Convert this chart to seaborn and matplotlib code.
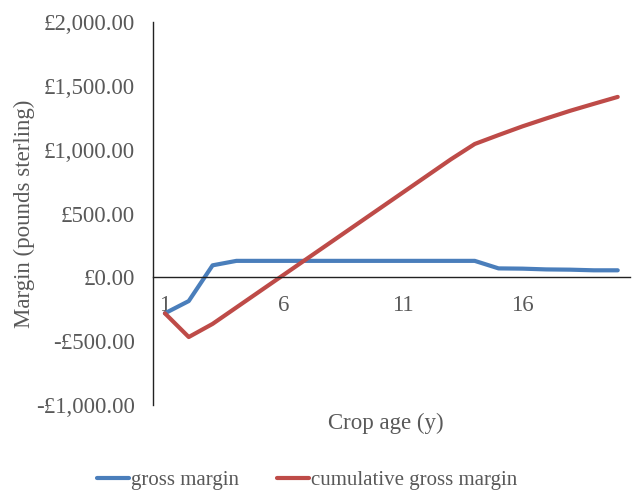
"""Gross margin and cumulative gross margin by crop age"""
import pandas as pd
import matplotlib.pyplot as plt
import matplotlib.ticker as mticker
import seaborn as sns

crop_age = list(range(1, 21))
gross_margin = [-282, -186, 94, 129, 129, 129, 129, 129, 129, 129,
                129, 129, 129, 129, 70, 68, 62, 60, 55, 55]
cumulative_margin = [-282, -468, -365, -236, -107, 22, 151, 280, 409, 538,
                     667, 796, 925, 1045, 1115, 1183, 1245, 1305, 1360, 1414]
series_names = ["gross margin", "cumulative gross margin"]
x_ticks = [1, 6, 11, 16]
y_ticks = [-1000, -500, 0, 500, 1000, 1500, 2000]

sns.set_style("white")
plt.rcParams["font.family"] = ["Liberation Serif", "DejaVu Serif"]

df = pd.DataFrame({
    "age": crop_age * 2,
    "margin": gross_margin + cumulative_margin,
    "series": [series_names[0]] * len(crop_age) + [series_names[1]] * len(crop_age),
})

text_color = "#595959"
fs = 16.5
fig = plt.figure(figsize=(6.33, 4.92), dpi=100)
ax = fig.add_axes([0.2417, 0.177, 0.753, 0.778])

sns.lineplot(data=df, x="age", y="margin", hue="series",
             palette=["#4A7EBB", "#BE4B48"], linewidth=3.0,
             ax=ax, legend=False)

ax.set_xlim(0.5, 20.5)
ax.set_ylim(-1000, 2000)
ax.set_xticks(x_ticks)
ax.set_yticks(y_ticks)
ax.yaxis.set_major_formatter(mticker.FuncFormatter(
    lambda v, _: f"-£{abs(v):,.2f}" if v < 0 else f"£{v:,.2f}"))

ax.spines["top"].set_visible(False)
ax.spines["right"].set_visible(False)
ax.spines["bottom"].set_position(("data", 0))
for s in ("left", "bottom"):
    ax.spines[s].set_color("#222222")
    ax.spines[s].set_linewidth(1.0)

ax.tick_params(axis="x", length=0, pad=13, labelsize=fs, labelcolor=text_color)
ax.tick_params(axis="y", length=0, pad=13, labelsize=fs, labelcolor=text_color)

ax.set_xlabel("")
ax.set_ylabel("Margin (pounds sterling)", fontsize=fs, color=text_color, labelpad=1)
fig.text(0.61, 0.14, "Crop age (y)", ha="center", va="center",
         fontsize=fs, color=text_color)

fig.legend(ax.lines[:2], series_names, loc="lower center",
           bbox_to_anchor=(0.485, -0.035), ncol=2, frameon=False,
           fontsize=15, handlelength=1.55, handletextpad=0.1,
           columnspacing=1.8, labelcolor=text_color)

plt.savefig("out.png", dpi=100)
plt.close()
